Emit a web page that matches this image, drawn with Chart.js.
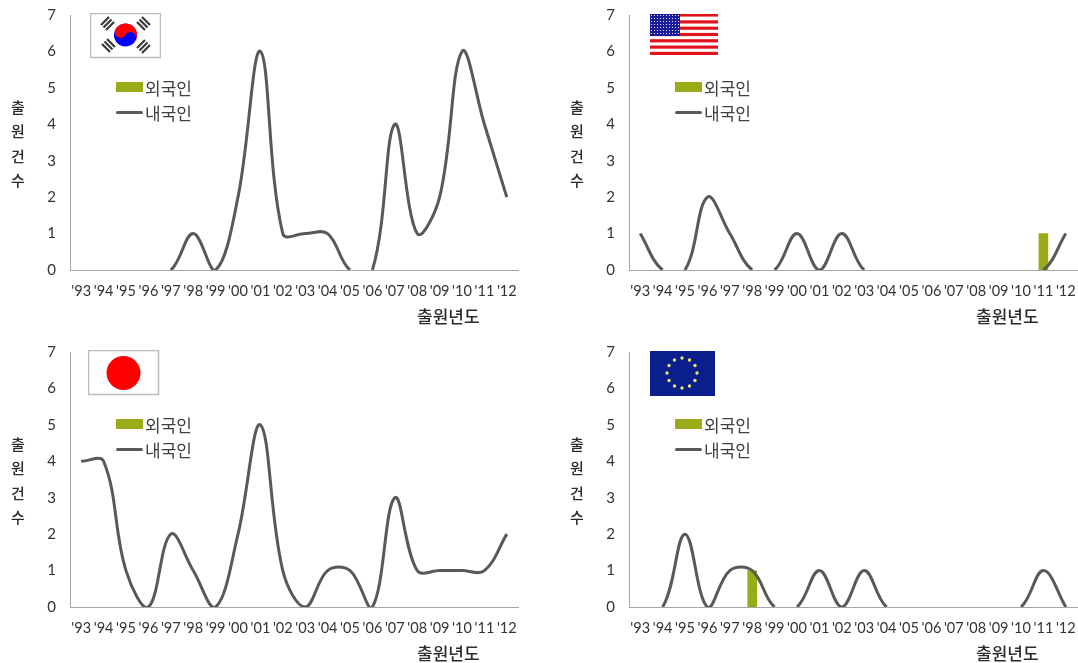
<!DOCTYPE html>
<html lang="ko">
<head>
<meta charset="utf-8">
<title>출원건수</title>
<script src="https://cdn.jsdelivr.net/npm/chart.js@4"></script>
<style>
html, body { margin: 0; padding: 0; background: #fff; overflow: hidden; }
body { width: 1078px; height: 663px; position: relative; }
.panel { position: absolute; width: 519px; height: 326px; }
.panel canvas { position: absolute; left: 0; top: 1px; }
.panel svg { position: absolute; }
.txt { position: absolute; font-family: "Noto Sans CJK KR", sans-serif; color: #2b2b2b; white-space: nowrap; line-height: 20px; }
.ylabel { left: 10px; width: 16px; text-align: center; font-size: 15px; font-weight: 500; }
.xlabel { left: 417px; top: 306px; font-size: 17px; font-weight: 500; }
.leg { left: 145px; font-size: 17px; color: #404040; }
.swatch { position: absolute; left: 116px; top: 82px; width: 27px; height: 10px; background: #9aab18; }
.legline { position: absolute; left: 116px; top: 111px; width: 27px; height: 3px; background: #595959; border-radius: 2px; }
</style>
</head>
<body>

<div class="panel" id="kr" style="left:0;top:0">
  <canvas id="krChart" width="519" height="326"></canvas>
  <svg style="left:90px;top:13px" width="71" height="46" viewBox="0 0 71 46">
    <rect x="0.5" y="0.5" width="70" height="44" fill="#fff" stroke="#bbb" stroke-width="1.5"/>
    <g transform="rotate(30 35.5 22)">
      <circle cx="35.5" cy="22" r="11.5" fill="#00f"/>
      <path d="M24 22a11.5 11.5 0 0 1 23 0a5.75 5.75 0 0 0-11.5 0a5.75 5.75 0 0 1-11.5 0z" fill="#f00"/>
    </g>
    <g stroke="#3a3a3a" stroke-width="2.2" fill="none">
      <path d="M11 12l8-8M13.5 14.5l8-8M16 17l8-8"/>
      <path d="M47 9l8 8M49.5 6.5l8 8M52 4l8 8"/>
      <path d="M12 31l8 8M14.5 28.5l8 8M17 26l8 8"/>
      <path d="M47 35l8-8M49.5 37.5l8-8M52 40l8-8"/>
    </g>
  </svg>
</div>

<div class="panel" id="us" style="left:559px;top:0">
  <canvas id="usChart" width="519" height="326"></canvas>
  <svg style="left:91px;top:14px" width="68" height="41" viewBox="0 0 68 41">
    <defs>
      <pattern id="stars" width="3" height="3" patternUnits="userSpaceOnUse">
        <rect width="3" height="3" fill="#1a1a9c"/>
        <circle cx="1.5" cy="1.5" r="0.6" fill="#fff"/>
      </pattern>
    </defs>
    <rect width="68" height="41" fill="#fff"/>
    <g fill="#e0141c">
      <rect y="0" width="68" height="2.6"/><rect y="6.3" width="68" height="3.2"/>
      <rect y="12.6" width="68" height="3.2"/><rect y="18.9" width="68" height="3.2"/>
      <rect y="25.2" width="68" height="3.2"/><rect y="31.5" width="68" height="3.2"/>
      <rect y="37.8" width="68" height="3.2"/>
    </g>
    <rect width="30" height="22" fill="url(#stars)"/>
  </svg>
</div>

<div class="panel" id="jp" style="left:0;top:337px">
  <canvas id="jpChart" width="519" height="326"></canvas>
  <svg style="left:88px;top:13px" width="72" height="46" viewBox="0 0 72 46">
    <rect x="0.5" y="0.5" width="70" height="44" fill="#fff" stroke="#bbb" stroke-width="1.5"/>
    <circle cx="35.5" cy="23" r="17" fill="#f00"/>
  </svg>
</div>

<div class="panel" id="eu" style="left:559px;top:337px">
  <canvas id="euChart" width="519" height="326"></canvas>
  <svg style="left:91px;top:14px" width="65" height="45" viewBox="0 0 65 45" id="euFlag">
    <rect width="65" height="45" fill="#0b1f8c"/>
  </svg>
</div>

<script>
// 출원년도
const years = ["'93", "'94", "'95", "'96", "'97", "'98", "'99", "'00", "'01", "'02",
    "'03", "'04", "'05", "'06", "'07", "'08", "'09", "'10", "'11", "'12"];
const yTicks = [0, 1, 2, 3, 4, 5, 6, 7];

const yTitle = ['출', '원', '건', '수'];
const xTitle = '출원년도';
const foreignName = '외국인';
const domesticName = '내국인';

// 국가별 내국인 / 외국인 출원건수
const krDomestic = [0, 0, 0, 0, 0, 1, 0, 2, 6, 1, 1, 1, 0, 0, 4, 1, 2, 6, 4, 2];
const krForeign  = [0, 0, 0, 0, 0, 0, 0, 0, 0, 0, 0, 0, 0, 0, 0, 0, 0, 0, 0, 0];
const usDomestic = [1, 0, 0, 2, 1, 0, 0, 1, 0, 1, 0, 0, 0, 0, 0, 0, 0, 0, 0, 1];
const usForeign  = [0, 0, 0, 0, 0, 0, 0, 0, 0, 0, 0, 0, 0, 0, 0, 0, 0, 0, 1, 0];
const jpDomestic = [4, 4, 1, 0, 2, 1, 0, 2, 5, 1, 0, 1, 1, 0, 3, 1, 1, 1, 1, 2];
const jpForeign  = [0, 0, 0, 0, 0, 0, 0, 0, 0, 0, 0, 0, 0, 0, 0, 0, 0, 0, 0, 0];
const euDomestic = [0, 0, 2, 0, 1, 1, 0, 0, 1, 0, 1, 0, 0, 0, 0, 0, 0, 0, 1, 0];
const euForeign  = [0, 0, 0, 0, 0, 1, 0, 0, 0, 0, 0, 0, 0, 0, 0, 0, 0, 0, 0, 0];

const BAR_COLOR = '#9aab18';
const LINE_COLOR = '#595959';
const AXIS_COLOR = '#a6a6a6';

// 세로 제목, 가로 제목, 범례를 패널 위에 얹는다
function addLabels(panel) {
    const add = (cls, text, top) => {
        const el = document.createElement('div');
        el.className = cls;
        el.textContent = text;
        if (top !== undefined) el.style.top = top + 'px';
        panel.appendChild(el);
    };
    yTitle.forEach((ch, i) => add('txt ylabel', ch, 97 + i * 24.4));
    add('txt xlabel', xTitle);
    add('txt leg', foreignName, 78);
    add('txt leg', domesticName, 103);
    ['swatch', 'legline'].forEach(cls => {
        const el = document.createElement('div');
        el.className = cls;
        panel.appendChild(el);
    });
}

function drawPanel(id, domestic, foreign) {
    new Chart(document.getElementById(id + 'Chart'), {
        data: {
            labels: years,
            datasets: [
                {
                    type: 'line',
                    label: domesticName,
                    data: domestic,
                    borderColor: LINE_COLOR,
                    borderWidth: 3,
                    tension: 0.38,
                    capBezierPoints: false,
                    pointRadius: 0,
                    clip: { left: 5, top: 5, right: 5, bottom: 0 },
                    // 0이 이어지는 구간은 축 위에 그리지 않는다
                    segment: {
                        borderColor: c => (c.p0.parsed.y === 0 && c.p1.parsed.y === 0) ? 'transparent' : undefined
                    },
                    order: 1
                },
                {
                    type: 'bar',
                    label: foreignName,
                    // 0건은 막대를 그리지 않는다
                    data: foreign.map(v => v || null),
                    backgroundColor: BAR_COLOR,
                    barThickness: 9,
                    order: 2
                }
            ]
        },
        options: {
            responsive: false,
            animation: false,
            layout: { padding: { left: 0, right: 1, top: 14, bottom: 17 } },
            plugins: { legend: { display: false }, tooltip: { enabled: false } },
            scales: {
                x: {
                    grid: { display: false },
                    border: { display: true, color: AXIS_COLOR, width: 1 },
                    ticks: { color: '#333', font: { family: 'Lato', size: 14.5 }, autoSkip: false, maxRotation: 0, padding: 5 },
                    afterFit: scale => {
                        scale.height = 40;
                        scale.paddingLeft = 0;
                        scale.paddingRight = 0;
                    }
                },
                y: {
                    min: 0,
                    max: 7,
                    afterBuildTicks: scale => { scale.ticks = yTicks.map(v => ({ value: v })); },
                    grid: { display: false },
                    border: { display: true, color: AXIS_COLOR, width: 1 },
                    ticks: { color: '#333', font: { family: 'Lato', size: 15 }, padding: 6 },
                    afterFit: scale => {
                        scale.width = 70;
                        scale.paddingTop = 0;
                        scale.paddingBottom = 0;
                    }
                }
            }
        }
    });
    addLabels(document.getElementById(id));
}

// EU 깃발의 별 12개
function drawEuStars() {
    const svg = document.getElementById('euFlag');
    for (let i = 0; i < 12; i++) {
        const a = i * Math.PI / 6;
        const dot = document.createElementNS('http://www.w3.org/2000/svg', 'circle');
        dot.setAttribute('cx', 32 + 15 * Math.cos(a));
        dot.setAttribute('cy', 22 + 15 * Math.sin(a));
        dot.setAttribute('r', 1.7);
        dot.setAttribute('fill', '#e6e66a');
        svg.appendChild(dot);
    }
}

drawPanel('kr', krDomestic, krForeign);
drawPanel('us', usDomestic, usForeign);
drawPanel('jp', jpDomestic, jpForeign);
drawPanel('eu', euDomestic, euForeign);
drawEuStars();
</script>
</body>
</html>
